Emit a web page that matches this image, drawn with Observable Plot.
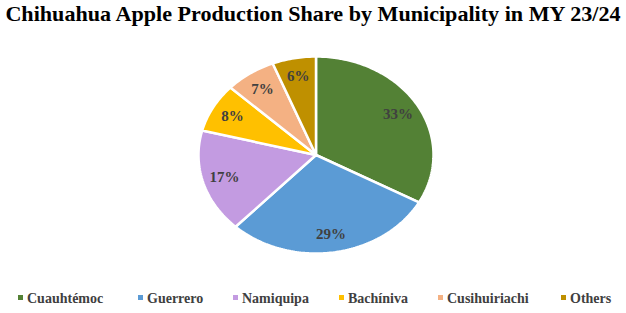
<!DOCTYPE html>
<html>
<head>
<meta charset="utf-8">
<script src="https://cdn.jsdelivr.net/npm/d3@7"></script>
<script src="https://cdn.jsdelivr.net/npm/@observablehq/plot@0.6"></script>
<style>
  html, body { margin: 0; padding: 0; background: #fff; }
  #wrap { width: 626px; height: 313px; position: relative; overflow: hidden; }
  #title { height: 28px; line-height: 28px; text-align: center; font-family: "Liberation Serif", "Times New Roman", serif; font-weight: bold; font-size: 21px; color: #000; white-space: nowrap; transform: scaleX(1.053); transform-origin: 313px 0; }
  #chart { height: 252px; }
  #legend { display: block; }
</style>
</head>
<body>
<div id="wrap">
  <div id="title">Chihuahua Apple Production Share by Municipality in MY 23/24</div>
  <div id="chart"></div>
  <svg id="legend" width="626" height="33"></svg>
</div>
<script>
const municipalities = ["Cuauhtémoc", "Guerrero", "Namiquipa", "Bachíniva", "Cusihuiriachi", "Others"];
const shares = [33, 29, 17, 8, 7, 6];
const colors = ["#538135", "#5B9BD5", "#C39BE1", "#FFC000", "#F4B183", "#BF9000"];

const arcs = d3.pie().sort(null).value(d => d.share)(municipalities.map((name, i) => ({name, share: shares[i]})));

const polys = [];
arcs.forEach(a => {
  polys.push({name: a.data.name, x: 0, y: 0});
  const n = Math.max(2, Math.ceil((a.endAngle - a.startAngle) / (Math.PI / 180)));
  for (let k = 0; k <= n; k++) {
    const t = a.startAngle + (a.endAngle - a.startAngle) * k / n;
    polys.push({name: a.data.name, x: Math.sin(t), y: Math.cos(t)});
  }
});
const labels = arcs.map(a => {
  const m = (a.startAngle + a.endAngle) / 2;
  const r = 0.81;
  return {x: r * Math.sin(m), y: r * Math.cos(m), text: a.data.share + "%"};
});

const chart = Plot.plot({
  width: 626,
  height: 252,
  marginLeft: 198,
  marginRight: 193,
  marginTop: 28,
  marginBottom: 27,
  x: {domain: [-1, 1], axis: null},
  y: {domain: [-1, 1], axis: null},
  color: {domain: municipalities, range: colors},
  marks: [
    Plot.line(polys, {x: "x", y: "y", z: "name", fill: "name", stroke: "white", strokeWidth: 2.5, curve: "linear-closed", strokeLinejoin: "miter"}),
    Plot.text(labels, {x: "x", y: "y", text: "text", fill: "#404040", fontSize: 15, fontWeight: "bold", fontFamily: "Liberation Serif, Times New Roman, serif"})
  ]
});
document.getElementById("chart").appendChild(chart);

// legend (below the chart)
const legendX = [18, 138, 233, 339, 438, 561];
const svg = d3.select("#legend");
municipalities.forEach((m, i) => {
  svg.append("rect").attr("x", legendX[i]).attr("y", 15).attr("width", 5).attr("height", 5).attr("fill", colors[i]);
  svg.append("text").attr("x", legendX[i] + 9).attr("y", 22.5)
    .attr("font-family", "Liberation Serif, Times New Roman, serif").attr("font-weight", "bold").attr("font-size", 14)
    .attr("fill", "#404040").text(m);
});
</script>
</body>
</html>
